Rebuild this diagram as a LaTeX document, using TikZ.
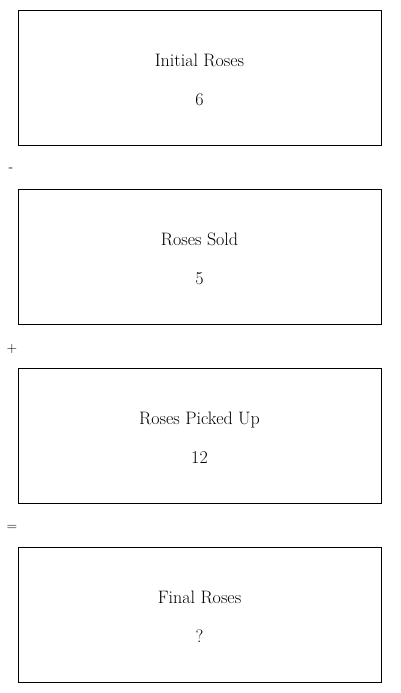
\documentclass[tikz,border=0pt]{standalone}
\newcommand{\toppad}{\rule{0pt}{17pt}}
\begin{document}
\begin{tikzpicture}[x=1pt,y=-1pt,
  qbox/.style={draw=black, line width=0.9pt, minimum width=363pt, minimum height=135pt,
    inner sep=0pt, align=center, font=\fontsize{18}{39}\selectfont},
  opnode/.style={inner sep=0pt, font=\fontsize{14}{16}\selectfont}]
\useasboundingbox (0,0) rectangle (400,693);
\node[qbox] (b1) at (199.5,77.5) {\toppad Initial Roses\\6};
\node[qbox] (b2) at (199.5,256.5) {\toppad Roses Sold\\5};
\node[qbox] (b3) at (199.5,435.5) {\toppad Roses Picked Up\\12};
\node[qbox] (b4) at (199.5,614.5) {\toppad Final Roses\\?};
\node[opnode] (o1) at (11,170) {-};
\node[opnode] (o2) at (12,349) {+};
\node[opnode] (o3) at (12,528) {=};
\end{tikzpicture}
\end{document}
